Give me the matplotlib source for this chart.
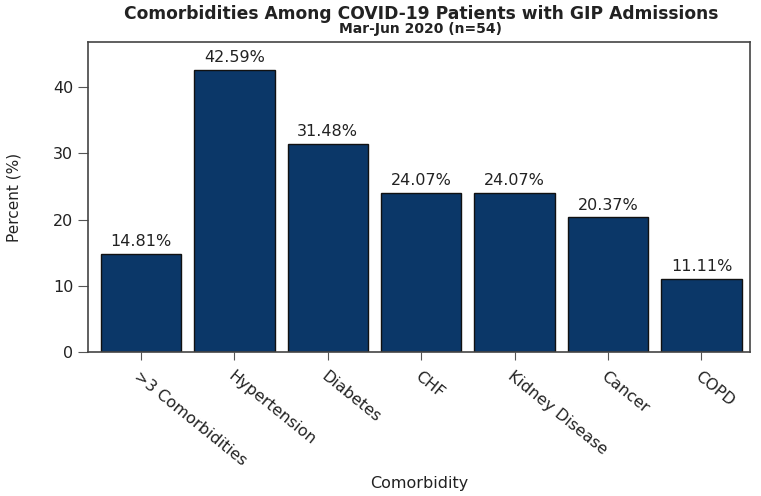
import matplotlib.pyplot as plt
import numpy as np

plt.rcParams['font.family'] = ['DejaVu Sans']

categories = ['>3 Comorbidities', 'Hypertension', 'Diabetes', 'CHF',
              'Kidney Disease', 'Cancer', 'COPD']
percent = [14.81, 42.59, 31.48, 24.07, 24.07, 20.37, 11.11]
yticks = [0, 10, 20, 30, 40]

bar_color = '#0b3768'
text_color = '#222222'

fig = plt.figure(figsize=(7.61, 4.96), dpi=100)
ax = fig.add_axes([0.1156, 0.29, 0.87, 0.625])

x = np.arange(len(categories))
ax.bar(x, percent, width=0.86, color=bar_color, edgecolor='#111111', linewidth=1)

for xi, v in zip(x, percent):
    ax.text(xi, v + 0.7, f'{v:.2f}%', ha='center', va='bottom',
            fontsize=11.5, color=text_color)

ax.set_xlim(-0.567, 6.52)
ax.set_ylim(0, 46.8)
ax.set_yticks(yticks)
ax.set_xticks(x)
ax.set_xticklabels(categories, rotation=-39, ha='left', rotation_mode='anchor',
                   fontsize=11.5, color=text_color)
ax.tick_params(axis='y', labelsize=11.5, labelcolor=text_color, length=7, color='#555555')
ax.tick_params(axis='x', length=6, color='#555555', pad=6)
for s in ax.spines.values():
    s.set_color('#444444')
    s.set_linewidth(1.2)

ax.set_ylabel('Percent (%)', fontsize=11, color=text_color)
ax.yaxis.set_label_coords(-0.10, 0.5)
ax.set_xlabel('Comorbidity', fontsize=11.5, color=text_color)
ax.xaxis.set_label_coords(0.5, -0.40)

fig.text(0.553, 0.972, 'Comorbidities Among COVID-19 Patients with GIP Admissions',
         ha='center', va='center', fontsize=12.3, fontweight='bold', color='#222222')
fig.text(0.553, 0.942, 'Mar-Jun 2020 (n=54)', ha='center', va='center',
         fontsize=10, fontweight='bold', color='#222222')

fig.savefig('out.png', dpi=100)
